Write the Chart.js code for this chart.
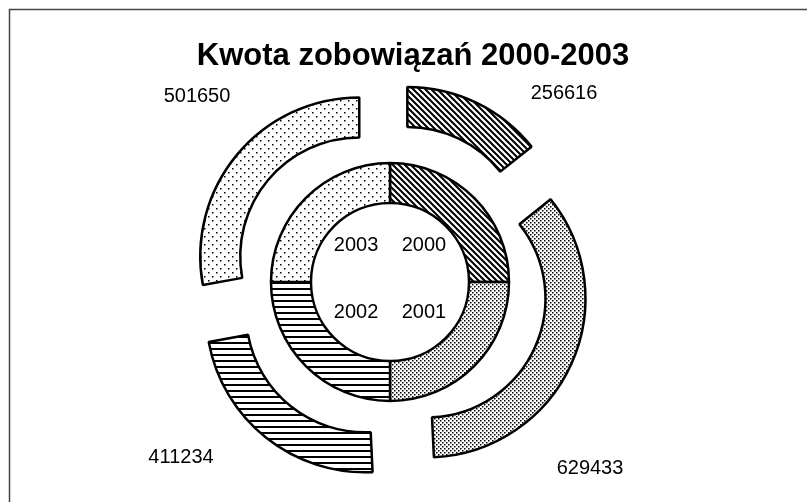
<!DOCTYPE html>
<html lang="pl">
<head>
  <meta charset="UTF-8">
  <title>Kwota zobowiązań 2000-2003</title>
  <script src="https://cdn.jsdelivr.net/npm/chart.js"></script>
  <style>
    html, body { margin: 0; padding: 0; background: #fff; }
    #wrap { width: 807px; height: 502px; }
  </style>
</head>
<body>
  <div id="wrap"><canvas id="chart" width="807" height="502"></canvas></div>

  <script>
    const years = ['2000', '2001', '2002', '2003'];
    const amounts = [256616, 629433, 411234, 501650];
    const yearShare = [1, 1, 1, 1];
    const titleText = 'Kwota zobowiązań 2000-2003';

    const canvas = document.getElementById('chart');
    const ctx = canvas.getContext('2d');
    const FONT = '"Liberation Sans", Arial, sans-serif';
    const EXPLODE = 40;

    // small black & white fill patterns, like the old printed chart
    function makePattern(w, h, draw) {
      const c = document.createElement('canvas');
      c.width = w; c.height = h;
      const g = c.getContext('2d');
      g.fillStyle = '#fff';
      g.fillRect(0, 0, w, h);
      g.fillStyle = '#000';
      g.strokeStyle = '#000';
      draw(g);
      return ctx.createPattern(c, 'repeat');
    }

    const hatch = makePattern(6, 6, g => {
      g.lineWidth = 2;
      g.beginPath();
      g.moveTo(-1, -1); g.lineTo(7, 7);
      g.moveTo(-1, 5); g.lineTo(1, 7);
      g.moveTo(5, -1); g.lineTo(7, 1);
      g.stroke();
    });
    const denseDots = makePattern(4, 4, g => {
      g.fillRect(0, 0, 1.5, 1.5);
      g.fillRect(2, 2, 1.5, 1.5);
    });
    const stripes = makePattern(6, 6, g => {
      g.fillRect(0, 0, 6, 2);
    });
    const sparseDots = makePattern(8, 8, g => {
      g.fillRect(0, 0, 1.5, 1.5);
      g.fillRect(4, 4, 1.5, 1.5);
    });
    const fills = [hatch, denseDots, stripes, sparseDots];

    // push the outer ring slices away from the centre
    const explodePlugin = {
      id: 'explode',
      afterDatasetUpdate(chart, args) {
        if (args.index !== 0) return;
        chart.getDatasetMeta(0).data.forEach(arc => {
          const mid = (arc.startAngle + arc.endAngle) / 2;
          arc.x += Math.cos(mid) * EXPLODE;
          arc.y += Math.sin(mid) * EXPLODE;
        });
      }
    };

    const labelPlugin = {
      id: 'labels',
      beforeDraw(chart) {
        const c = chart.ctx;
        c.save();
        c.strokeStyle = '#444';
        c.lineWidth = 1.5;
        c.beginPath();
        c.moveTo(9.5, chart.height);
        c.lineTo(9.5, 9.5);
        c.lineTo(chart.width, 9.5);
        c.stroke();
        c.restore();
      },
      afterDatasetsDraw(chart) {
        const c = chart.ctx;
        const area = chart.chartArea;
        const cx = (area.left + area.right) / 2;
        const cy = (area.top + area.bottom) / 2;
        c.save();
        c.fillStyle = '#000';
        c.textAlign = 'center';

        c.font = 'bold 31px ' + FONT;
        c.textBaseline = 'alphabetic';
        c.fillText(titleText, cx + 23, 65);

        c.textBaseline = 'middle';
        c.font = '20px ' + FONT;
        chart.getDatasetMeta(1).data.forEach((arc, i) => {
          const mid = (arc.startAngle + arc.endAngle) / 2;
          c.fillText(years[i], arc.x + Math.cos(mid) * 48, arc.y + Math.sin(mid) * 48 - 3);
        });

        const spots = [[174, -189], [200, 186], [-209, 175], [-193, -186]];
        amounts.forEach((v, i) => {
          c.fillText(String(v), cx + spots[i][0], cy + spots[i][1]);
        });
        c.restore();
      }
    };

    new Chart(ctx, {
      type: 'doughnut',
      data: {
        labels: years,
        datasets: [
          {
            label: 'Kwota',
            data: amounts,
            backgroundColor: fills,
            borderColor: '#000',
            borderWidth: 2.5
          },
          {
            label: 'Rok',
            data: yearShare,
            backgroundColor: fills,
            borderColor: '#000',
            borderWidth: 2.5
          }
        ]
      },
      options: {
        responsive: false,
        animation: false,
        events: [],
        radius: 159,
        cutout: '49.7%',
        layout: { padding: { left: 0, right: 27, top: 62, bottom: 0 } },
        plugins: {
          legend: { display: false },
          tooltip: { enabled: false },
          title: { display: false }
        }
      },
      plugins: [explodePlugin, labelPlugin]
    });
  </script>
</body>
</html>
